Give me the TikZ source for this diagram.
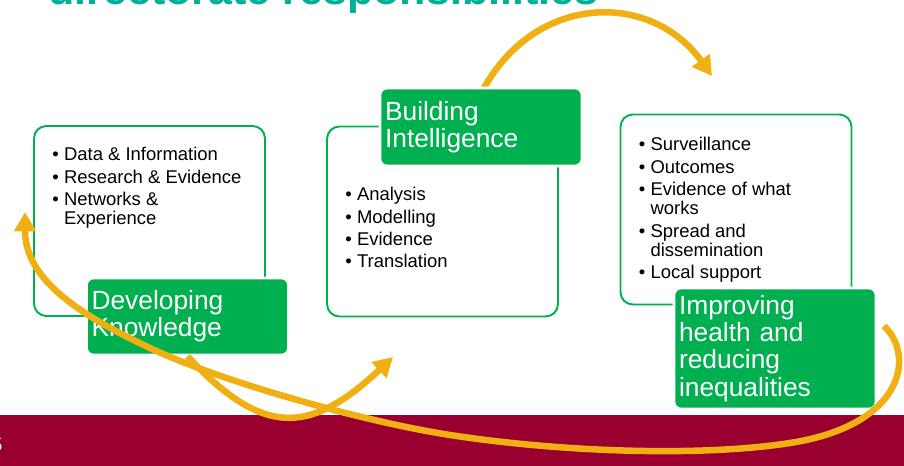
\documentclass[tikz,border=0pt]{standalone}
\usepackage{fontspec}
\setmainfont{Liberation Sans}
\usepackage{tikz}
\usetikzlibrary{arrows.meta}
\definecolor{boxgreen}{RGB}{0,176,80}
\definecolor{swooshgold}{RGB}{240,176,20}
\definecolor{bandred}{RGB}{153,0,48}
\definecolor{titleteal}{RGB}{0,176,152}
\newcommand{\blt}{\textbullet\hspace{3pt}}
\newcommand{\bltgap}{\hphantom{\textbullet\hspace{3pt}}}

\begin{document}
\begin{tikzpicture}[x=0.02cm, y=-0.02cm, >={Triangle[length=11pt,width=12pt]},
	outline/.style={draw=boxgreen, line width=1.1pt, rounded corners=7pt, minimum width=4.62cm, minimum height=3.8cm},
	stage/.style={fill=boxgreen, draw=white, line width=1.5pt, rounded corners=4pt, text=white, align=left, text width=3.84cm, inner xsep=0.1cm, minimum width=4.04cm, font=\fontsize{15}{15.5}\selectfont},
	items/.style={anchor=north west, inner sep=0pt, align=left, font=\fontsize{10.5}{11}\selectfont},
	swoosh/.style={draw=swooshgold, line width=3.7pt}]
		\useasboundingbox (0,0) rectangle (904,466);
		%title and footer
		\node [anchor=base west, inner sep=0pt, text=titleteal, font=\fontsize{24.5}{24.5}\selectfont\bfseries] (title) at (48,5) {directorate responsibilities};
		\fill [bandred] (0,415) rectangle (904,466);
		\node [inner sep=0pt, text=white, font=\fontsize{11}{11}\selectfont] (pgnum) at (-3,445) {5};
		%boxes
		\node [outline] (kn-box) at (149.5,221) {};
		\node [outline] (bi-box) at (442.5,221.5) {};
		\node [outline] (ih-box) at (736,209.5) {};
		\node [items] (kn-list) at (52,147) {\blt Data \& Information\\[1.75pt] \blt Research \& Evidence\\[1.75pt] \blt Networks \&\\ \bltgap Experience};
		\node [items] (bi-list) at (345,187) {\blt Analysis\\[1.75pt] \blt Modelling\\[1.75pt] \blt Evidence\\[1.75pt] \blt Translation};
		\node [items] (ih-list) at (638.5,137) {\blt Surveillance\\[1.75pt] \blt Outcomes\\[1.75pt] \blt Evidence of what\\ \bltgap works\\[1.75pt] \blt Spread and\\ \bltgap dissemination\\[1.75pt] \blt Local support};
		%2 -> 3
		\coordinate (ih-in) at (712,76);
		\draw [swoosh, ->] (484,88) .. controls (538,-8) and (652,-8) .. (ih-in);
		%labels
		\node [stage, minimum height=1.54cm] (kn) at (187.5,316.5) {Developing\\Knowledge};
		\node [stage, minimum height=1.56cm] (bi) at (481,127) {Building\\Intelligence};
		\node [stage, minimum height=2.42cm] (ih) at (775,348.5) {Improving\\health and\\reducing\\inequalities};
		%1 -> 2
		\coordinate (bi-in) at (393,357);
		\draw [swoosh, ->] (kn.south) .. controls (262,436) and (309,436) .. (bi-in);
		%3 -> 1
		\coordinate (ih-out) at (884,326);
		\coordinate (kn-in) at (25,212);
		\draw [swoosh, ->] (ih-out) .. controls (915,355) and (905,425) .. (790,443)
			.. controls (700,457) and (560,452) .. (450,435)
			.. controls (360,421) and (220,381) .. (150,348)
			.. controls (80,315) and (25,280) .. (kn-in);
	\end{tikzpicture}
\end{document}
